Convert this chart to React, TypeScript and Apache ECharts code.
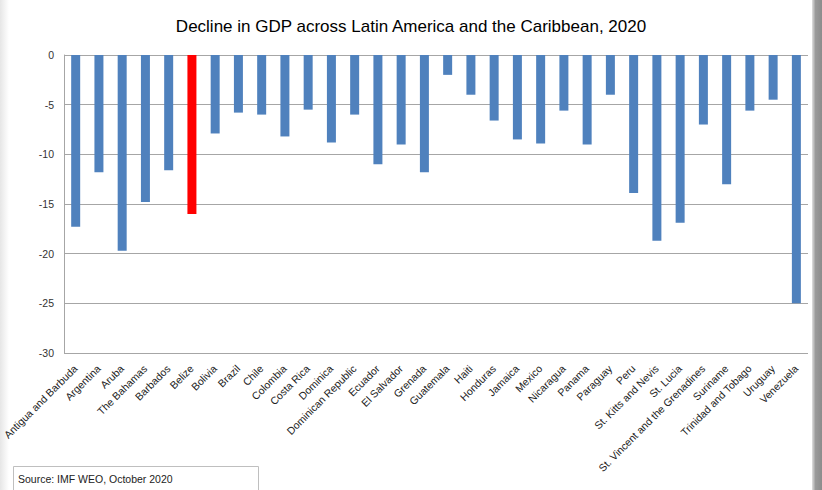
import React, { useEffect, useRef } from "react";
import * as echarts from "echarts";

const countries = [
  "Antigua and Barbuda", "Argentina", "Aruba", "The Bahamas", "Barbados", "Belize",
  "Bolivia", "Brazil", "Chile", "Colombia", "Costa Rica", "Dominica",
  "Dominican Republic", "Ecuador", "El Salvador", "Grenada", "Guatemala", "Haiti",
  "Honduras", "Jamaica", "Mexico", "Nicaragua", "Panama", "Paraguay", "Peru",
  "St. Kitts and Nevis", "St. Lucia", "St. Vincent and the Grenadines", "Suriname",
  "Trinidad and Tobago", "Uruguay", "Venezuela",
];
const gdpChange = [
  -17.3, -11.8, -19.7, -14.8, -11.6, -16.0,
  -7.9, -5.8, -6.0, -8.2, -5.5, -8.8,
  -6.0, -11.0, -9.0, -11.8, -2.0, -4.0,
  -6.6, -8.5, -8.9, -5.6, -9.0, -4.0, -13.9,
  -18.7, -16.9, -7.0, -13.0,
  -5.6, -4.5, -25.0,
];
const highlighted = "Belize";
const titleText = "Decline in GDP across Latin America and the Caribbean, 2020";
const sourceText = "Source: IMF WEO, October 2020";

const FONT = "'Liberation Sans', Arial, sans-serif";

export default function App() {
  const ref = useRef<HTMLDivElement>(null);
  useEffect(() => {
    if (!ref.current) return;
    const chart = echarts.init(ref.current, null, { renderer: "svg" });
    chart.setOption({
      animation: false,
      backgroundColor: "#ffffff",
      title: {
        text: titleText,
        left: "center",
        top: 13,
        textStyle: { fontFamily: FONT, fontSize: 17, fontWeight: "normal", color: "#000" },
      },
      grid: { left: 58, right: 14, top: 55, bottom: 137, containLabel: false },
      xAxis: {
        type: "category",
        data: countries,
        position: "bottom",
        axisLine: { show: false },
        axisTick: { show: false },
        axisLabel: {
          interval: 0,
          rotate: 45,
          fontFamily: FONT,
          fontSize: 10.5,
          color: "#222",
          margin: 14,
        },
      },
      yAxis: {
        type: "value",
        min: -30,
        max: 0,
        interval: 5,
        axisLine: { show: true, lineStyle: { color: "#a6a6a6" } },
        axisTick: { show: false },
        axisLabel: { fontFamily: FONT, fontSize: 10.5, color: "#333", margin: 10 },
        splitLine: { lineStyle: { color: "#a6a6a6", width: 1 } },
      },
      series: [
        {
          type: "bar",
          barWidth: 9,
          data: countries.map((c, i) => ({
            value: gdpChange[i],
            itemStyle: { color: c === highlighted ? "#ff0000" : "#4f81bd" },
          })),
        },
      ],
      graphic: [
        {
          type: "rect",
          left: 0,
          top: 0,
          shape: { width: 9, height: 490 },
          style: {
            fill: new echarts.graphic.LinearGradient(0, 0, 1, 0, [
              { offset: 0, color: "#e6e6e6" },
              { offset: 1, color: "#ffffff" },
            ]),
          },
          silent: true,
        },
        {
          type: "rect",
          left: 812,
          top: 0,
          shape: { width: 10, height: 490 },
          style: {
            fill: new echarts.graphic.LinearGradient(0, 0, 1, 0, [
              { offset: 0, color: "#e0e0e0" },
              { offset: 0.35, color: "#9a9a9a" },
              { offset: 1, color: "#8c8c8c" },
            ]),
          },
          silent: true,
        },
        {
          type: "rect",
          left: 13,
          top: 466,
          shape: { width: 245, height: 30 },
          style: { fill: "#ffffff", stroke: "#bfbfbf", lineWidth: 1 },
          silent: true,
        },
        {
          type: "text",
          left: 18,
          top: 473,
          style: { text: sourceText, fontFamily: FONT, fontSize: 10.5, fill: "#222" },
          silent: true,
        },
      ],
    });
    return () => chart.dispose();
  }, []);
  return (
    <div
      ref={ref}
      style={{ position: "fixed", left: 0, top: 0, width: 822, height: 490 }}
    />
  );
}
